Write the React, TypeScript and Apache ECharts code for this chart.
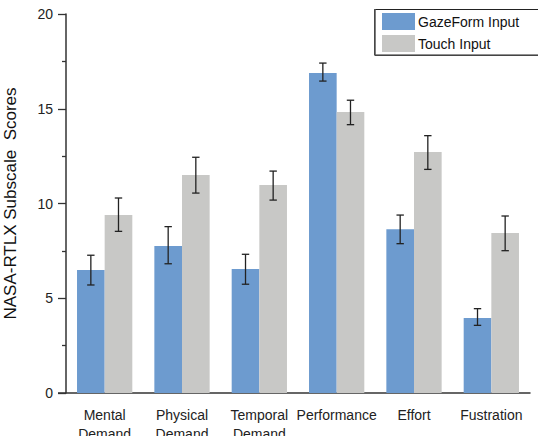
import React, { useEffect, useRef } from "react";
import * as echarts from "echarts";

const categories = ["Mental\nDemand", "Physical\nDemand", "Temporal\nDemand", "Performance", "Effort", "Fustration"];
const seriesNames = ["GazeForm Input", "Touch Input"];
const gazeMeans = [6.49, 7.76, 6.54, 16.89, 8.64, 3.96];
const gazeLow = [5.7, 6.82, 5.74, 16.46, 7.88, 3.57];
const gazeHigh = [7.27, 8.78, 7.32, 17.41, 9.39, 4.45];
const touchMeans = [9.39, 11.5, 10.98, 14.83, 12.72, 8.44];
const touchLow = [8.53, 10.55, 10.18, 14.16, 11.8, 7.51];
const touchHigh = [10.29, 12.44, 11.71, 15.45, 13.58, 9.34];
const yTicks = { min: 0, max: 20, interval: 5 };

const FONT = "'Liberation Sans', Arial, Helvetica, sans-serif";
const CAT_GAP = 0.285;

function errorSeries(low: number[], high: number[], side: number) {
  return {
    type: "custom",
    silent: true,
    z: 10,
    data: low.map((l, i) => [i, l, high[i]]),
    renderItem: (params: any, api: any) => {
      const idx = api.value(0);
      const lo = api.coord([idx, api.value(1)]);
      const hi = api.coord([idx, api.value(2)]);
      const band = api.size([1, 0])[0];
      const barW = (band * (1 - CAT_GAP)) / 2;
      const x = lo[0] + side * barW / 2;
      const cap = 3.7;
      const style = { stroke: "#222", lineWidth: 1.3 };
      return {
        type: "group",
        children: [
          { type: "line", shape: { x1: x, y1: lo[1], x2: x, y2: hi[1] }, style },
          { type: "line", shape: { x1: x - cap, y1: lo[1], x2: x + cap, y2: lo[1] }, style },
          { type: "line", shape: { x1: x - cap, y1: hi[1], x2: x + cap, y2: hi[1] }, style },
        ],
      };
    },
  };
}

export default function App() {
  const ref = useRef<HTMLDivElement>(null);
  useEffect(() => {
    const chart = echarts.init(ref.current!, null, { renderer: "svg" });
    chart.setOption({
      animation: false,
      textStyle: { fontFamily: FONT },
      grid: { left: 66, right: 8, top: 14, bottom: 43, containLabel: false, outerBoundsMode: "none" },
      legend: {
        orient: "vertical",
        left: 382,
        top: 13,
        padding: 0,
        itemGap: 5,
        itemWidth: 33,
        itemHeight: 17,
        icon: "rect",
        selectedMode: false,
        data: seriesNames,
        textStyle: { fontSize: 14, color: "#111", fontFamily: FONT, padding: [0, 0, 0, -2] },
      },
      xAxis: {
        type: "category",
        data: categories,
        axisLine: { lineStyle: { color: "#333", width: 1.5 } },
        axisTick: { alignWithLabel: true, length: 6, lineStyle: { color: "#333", width: 1.3 } },
        axisLabel: { fontSize: 14, color: "#222", margin: 12, lineHeight: 19, interval: 0, fontFamily: FONT },
      },
      yAxis: {
        type: "value",
        min: yTicks.min,
        max: yTicks.max,
        interval: yTicks.interval,
        name: "NASA-RTLX Subscale  Scores",
        nameLocation: "middle",
        nameGap: 47,
        nameTextStyle: { fontSize: 17, color: "#111", fontFamily: FONT },
        axisLine: { show: true, lineStyle: { color: "#333", width: 1.5 } },
        axisTick: { show: true, length: 8, lineStyle: { color: "#333", width: 1.3 } },
        minorTick: { show: true, splitNumber: 2, length: 4, lineStyle: { color: "#333", width: 1.3 } },
        splitLine: { show: false },
        axisLabel: { fontSize: 14, color: "#222", margin: 13, fontFamily: FONT },
      },
      series: [
        {
          name: seriesNames[0],
          type: "bar",
          data: gazeMeans,
          barGap: "0%",
          barCategoryGap: (CAT_GAP * 100).toFixed(1) + "%",
          itemStyle: { color: "#6D9BCF" },
        },
        {
          name: seriesNames[1],
          type: "bar",
          data: touchMeans,
          barGap: "0%",
          barCategoryGap: (CAT_GAP * 100).toFixed(1) + "%",
          itemStyle: { color: "#C8C8C6" },
        },
        errorSeries(gazeLow, gazeHigh, -1),
        errorSeries(touchLow, touchHigh, 1),
      ],
      graphic: [
        { type: "line", shape: { x1: 58, y1: 393, x2: 66, y2: 393 }, style: { stroke: "#333", lineWidth: 1.5 } },
        { type: "rect", shape: { x: 374.5, y: 9.5, width: 200, height: 45.5 }, style: { fill: "none", stroke: "#222", lineWidth: 1 } },
        { type: "line", shape: { x1: 375, y1: 9, x2: 375, y2: 55.5 }, style: { stroke: "#555", lineWidth: 1.5 } },
        { type: "line", shape: { x1: 375, y1: 55.5, x2: 538, y2: 55.5 }, style: { stroke: "#444", lineWidth: 1 } },
      ],
    });
    return () => chart.dispose();
  }, []);
  return <div ref={ref} style={{ width: 538, height: 436, position: "absolute", left: 0, top: 0 }} />;
}
